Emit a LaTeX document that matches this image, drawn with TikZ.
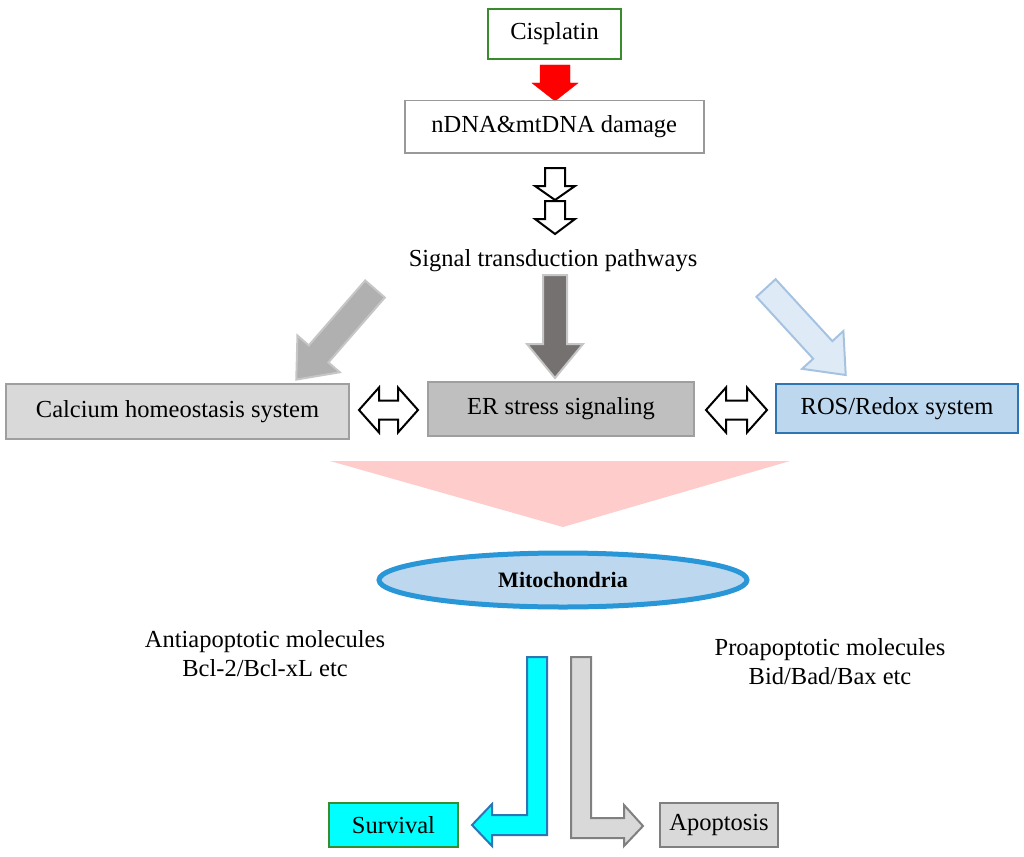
\documentclass[tikz,border=0pt]{standalone}
\usepackage{fontspec}
\setmainfont{Liberation Serif}
\usetikzlibrary{shapes.geometric}
\begin{document}
\begin{tikzpicture}[x=1pt,y=-1pt,
  txt/.style={font=\fontsize{24.5}{29}\selectfont},
  box/.style={txt,draw,line width=2pt,inner sep=0pt,anchor=north west},
  every node/.style={txt}]
\useasboundingbox (0,0) rectangle (1024,856);
\newcommand\blkarrow[7]{%
  \begin{scope}[shift={#1},rotate=-#2]
  \draw[#7,line join=miter] (0,-#4/2)--(#3-#6,-#4/2)--(#3-#6,-#5/2)--(#3,0)--(#3-#6,#5/2)--(#3-#6,#4/2)--(0,#4/2)--cycle;
  \end{scope}}
\newcommand\dblarrow[6]{%
  \begin{scope}[shift={#1}]
  \draw[#6,line join=miter] (0,0)--(#5,-#4/2)--(#5,-#3/2)--(#2-#5,-#3/2)--(#2-#5,-#4/2)--(#2,0)--(#2-#5,#4/2)--(#2-#5,#3/2)--(#5,#3/2)--(#5,#4/2)--cycle;
  \end{scope}}
\definecolor{grn}{HTML}{3A8A2E}
\definecolor{blu}{HTML}{2E75B6}
\definecolor{lblu}{HTML}{BDD7EE}
\definecolor{cyn}{HTML}{00FFFF}

\node[box,draw=grn,minimum width=133,minimum height=50] (cis) at (487,8) {Cisplatin};
\blkarrow{(555,65)}{90}{36}{30}{46}{18}{draw=red,fill=red}
\node[box,draw=gray!80,line width=1.5pt,minimum width=299,minimum height=52] (dna) at (404,100) {nDNA\&mtDNA damage};
\blkarrow{(555,168)}{90}{32}{20}{40}{14}{draw=black,fill=white,line width=2pt}
\blkarrow{(555,201)}{90}{33}{20}{40}{15}{draw=black,fill=white,line width=2pt}
\node (sig) at (553,261) {Signal transduction pathways};

\blkarrow{(375,289)}{131}{120}{26}{56}{34}{draw=gray!45,fill=gray!62,line width=2pt}
\blkarrow{(555,275)}{90}{103}{24}{56}{34}{draw=gray!45,fill={rgb,255:red,118;green,113;blue,113},line width=2pt}
\blkarrow{(766,288)}{47.5}{118}{26}{56}{34}{draw={rgb,255:red,165;green,195;blue,225},fill={rgb,255:red,222;green,235;blue,247},line width=2pt}

\node[box,draw=gray!75,fill=gray!30,minimum width=343,minimum height=55] (ca) at (5,383) {Calcium homeostasis system};
\dblarrow{(359,410)}{59}{19}{45}{20}{draw=black,fill=white,line width=2pt}
\node[box,draw=gray!75,fill=gray!50,minimum width=266,minimum height=54] (er) at (427,381) {ER stress signaling};
\dblarrow{(706,410)}{61}{19}{45}{20}{draw=black,fill=white,line width=2pt}
\node[box,draw=blu,fill=lblu,minimum width=242,minimum height=49] (ros) at (775,383) {ROS/Redox system};

\fill[red!20] (330,461)--(790,461)--(563,527)--cycle;
\node[draw={rgb,255:red,40;green,150;blue,215},line width=5pt,fill=lblu,ellipse,minimum width=368,minimum height=54,inner sep=0pt,font=\fontsize{22}{26}\selectfont\bfseries] (mito) at (563,580) {Mitochondria};

\node[align=center] (anti) at (265,654) {Antiapoptotic molecules\\Bcl-2/Bcl-xL etc};
\node[align=center] (pro) at (830,662) {Proapoptotic molecules\\Bid/Bad/Bax etc};

\draw[draw=blu,fill=cyn,line width=2pt,line join=miter] (527,657)--(547,657)--(547,835)--(492,835)--(492,846)--(472,825)--(492,804)--(492,815)--(527,815)--cycle;
\draw[draw=gray,fill=gray!30,line width=2pt,line join=miter] (571,657)--(591,657)--(591,818)--(624,818)--(624,805)--(643,826)--(624,846)--(624,838)--(571,838)--cycle;

\node[box,draw=grn,fill=cyn,minimum width=129,minimum height=44] (surv) at (328,802) {Survival};
\node[box,draw=gray,fill=gray!30,minimum width=118,minimum height=44] (apo) at (659,802) {Apoptosis};
\end{tikzpicture}
\end{document}
